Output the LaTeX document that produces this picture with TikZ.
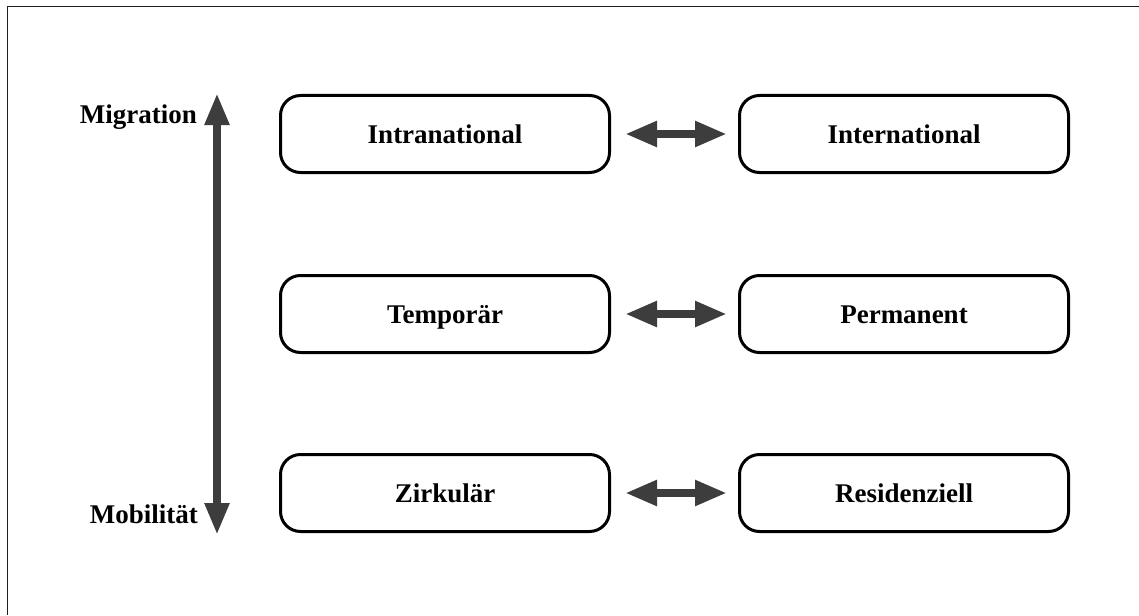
\documentclass[tikz,border=0pt]{standalone}
\usepackage{fontspec}
\setmainfont{Liberation Serif}
\usetikzlibrary{arrows.meta}
\definecolor{arrowgray}{HTML}{3D3D3D}
\definecolor{framegray}{HTML}{1E1E1E}
\begin{document}
\begin{tikzpicture}[x=1pt,y=-1pt,
  box/.style={draw=black, line width=3pt, rounded corners=20pt, minimum width=329pt, minimum height=77pt, inner sep=0pt, outer sep=0pt, text height=18pt, text depth=0pt, font=\fontsize{27}{32}\selectfont\bfseries},
  lbl/.style={font=\fontsize{27}{32}\selectfont\bfseries, inner sep=0pt, anchor=base east},
  dbl/.style={draw=arrowgray, line width=8pt, {Triangle[width=24pt,length=32pt]}-{Triangle[width=24pt,length=32pt]}, shorten <=15.5pt, shorten >=12.5pt},
  axis/.style={draw=arrowgray, line width=8pt, {Triangle[width=23pt,length=32pt]}-{Triangle[width=23pt,length=32pt]}},
]
\useasboundingbox (0,0) rectangle (1139,615);
\draw[line width=1pt, framegray] (7,615) -- (7,7) -- (1139,7);

\node[box] (intra) at (445,134) {Intranational};
\node[box] (inter) at (904,134) {International};
\node[box] (temp) at (445,314) {Temporär};
\node[box] (perm) at (904,314) {Permanent};
\node[box] (zirk) at (445,493) {Zirkulär};
\node[box] (resi) at (904,493) {Residenziell};

\draw[dbl] (intra.east) -- (inter.west);
\draw[dbl] (temp.east) -- (perm.west);
\draw[dbl] (zirk.east) -- (resi.west);

\coordinate (axtop) at (217,93);
\coordinate (axbot) at (217,535);
\draw[axis] (axbot) -- (axtop);

\node[lbl] (mig) at (197,123) {Migration};
\node[lbl] (mob) at (198,523) {Mobilität};
\end{tikzpicture}
\end{document}
